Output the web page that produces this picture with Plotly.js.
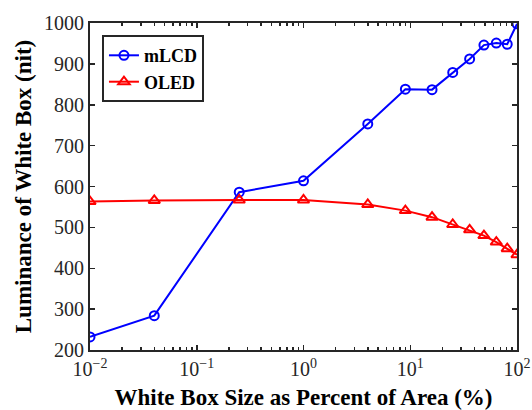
<!DOCTYPE html>
<html>
<head>
<meta charset="utf-8">
<script src="https://cdn.plot.ly/plotly-3.0.1.min.js"></script>
<style>html,body{margin:0;padding:0;background:#fff;}#chart{width:532px;height:410px;}</style>
</head>
<body>
<div id="chart"></div>
<script>
// White box size as percent of area (%)
const boxSize = [0.01, 0.04, 0.25, 1, 4, 9, 16, 25, 36, 49, 64, 81, 100];
// Luminance of white box (nit)
const mLCD = [232, 284, 586, 614, 753, 838, 837, 879, 912, 946, 951, 948, 998];
const OLED = [563, 566, 567, 567, 556, 541, 525, 507, 494, 480, 464, 448, 433];
// Tick labels
const xTickVals = [0.01, 0.1, 1, 10, 100];
const xTickText = ['10<sup>−2</sup>', '10<sup>−1</sup>', '10<sup>0</sup>', '10<sup>1</sup>', '10<sup>2</sup>'];
const yTickVals = [200, 300, 400, 500, 600, 700, 800, 900, 1000];

const serif = '"Liberation Serif", "Times New Roman", serif';

const traces = [
  {
    x: boxSize, y: mLCD, name: 'mLCD', type: 'scatter', mode: 'lines+markers',
    line: {color: '#0000ff', width: 2},
    marker: {symbol: 'circle-open', size: 9, color: '#0000ff', line: {width: 2, color: '#0000ff'}}
  },
  {
    x: boxSize, y: OLED, name: 'OLED', type: 'scatter', mode: 'lines+markers',
    line: {color: '#ff0000', width: 2},
    marker: {symbol: 'triangle-up-open', size: 10, color: '#ff0000', line: {width: 2, color: '#ff0000'}}
  }
];

const layout = {
  width: 532, height: 410,
  margin: {l: 90, r: 15, t: 23, b: 60},
  paper_bgcolor: '#fff', plot_bgcolor: '#fff',
  font: {family: serif, size: 20, color: '#262626'},
  showlegend: true,
  legend: {
    x: 0.028, y: 0.963, xanchor: 'left', yanchor: 'top',
    bgcolor: '#fff', bordercolor: '#262626', borderwidth: 2,
    font: {family: serif, size: 18, color: '#000', weight: 'bold'},
    tracegroupgap: 0, itemwidth: 30
  },
  xaxis: {
    type: 'log', range: [-2, 2],
    tickmode: 'array', tickvals: xTickVals, ticktext: xTickText,
    ticks: 'inside', ticklen: 5, tickwidth: 1.5, tickcolor: '#262626',
    minor: {ticks: 'inside', ticklen: 3, tickwidth: 1.5, tickcolor: '#262626', dtick: 'D1', showgrid: false},
    showline: true, linecolor: '#262626', linewidth: 2, mirror: 'allticks',
    showgrid: false, zeroline: false,
    tickfont: {family: serif, size: 20, color: '#262626'},
    title: {text: 'White Box Size as Percent of Area (%)', font: {family: serif, size: 23, color: '#000', weight: 'bold'}, standoff: 11}
  },
  yaxis: {
    range: [200, 1000],
    tickmode: 'array', tickvals: yTickVals,
    ticks: 'inside', ticklen: 5, tickwidth: 1.5, tickcolor: '#262626',
    showline: true, linecolor: '#262626', linewidth: 2, mirror: 'allticks',
    showgrid: false, zeroline: false,
    tickfont: {family: serif, size: 20, color: '#262626'},
    title: {text: 'Luminance of White Box (nit)', font: {family: serif, size: 23, color: '#000', weight: 'bold'}, standoff: 6}
  }
};

Plotly.newPlot('chart', traces, layout, {displayModeBar: false, staticPlot: true});
</script>
</body>
</html>
